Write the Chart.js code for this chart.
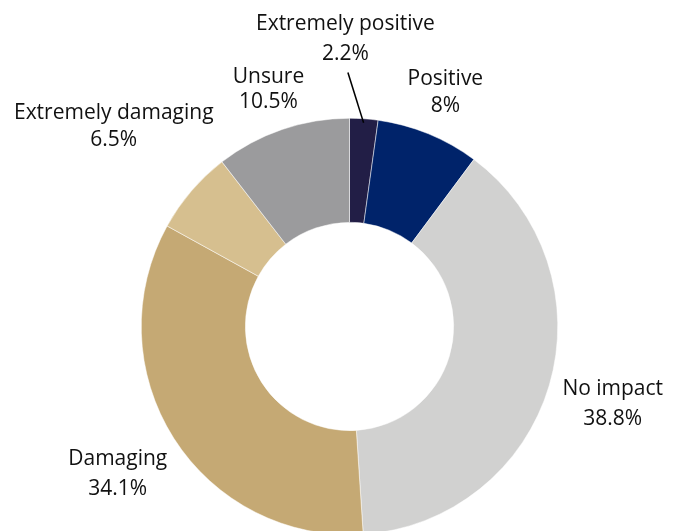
<!DOCTYPE html>
<html>
<head>
<meta charset="utf-8">
<script src="https://cdn.jsdelivr.net/npm/chart.js@4/dist/chart.umd.min.js"></script>
<style>
  html, body { margin: 0; padding: 0; background: #ffffff; overflow: hidden; }
  #wrap { width: 681px; height: 531px; overflow: hidden; }
  canvas { display: block; }
</style>
</head>
<body>
<div id="wrap"><canvas id="chart" width="681" height="545"></canvas></div>
<script>
// Survey responses: perceived impact, share of respondents (%)
const categories = ['Extremely positive', 'Positive', 'No impact', 'Damaging', 'Extremely damaging', 'Unsure'];
const shares = [2.2, 8, 38.8, 34.1, 6.5, 10.5];
const valueLabels = ['2.2%', '8%', '38.8%', '34.1%', '6.5%', '10.5%'];
const sliceColors = ['#221e46', '#00236a', '#d1d1d0', '#c5a974', '#d6bf8f', '#9b9b9d'];

// Label placement along each slice's mid-angle (multiples of the outer radius),
// a horizontal nudge, the gap between the two text lines and an optional leader line.
const labelLayout = [
  { dist: 1.386, dx: -24, gap: 30, leader: true },
  { dist: 1.213, dx: 0, gap: 27 },
  { dist: 1.318, dx: 0, gap: 30 },
  { dist: 1.319, dx: 0, gap: 30 },
  { dist: 1.477, dx: -2, gap: 27 },
  { dist: 1.202, dx: 0, gap: 25 }
];

const sliceLabels = {
  id: 'sliceLabels',
  afterDatasetsDraw(chart) {
    const ctx = chart.ctx;
    const arcs = chart.getDatasetMeta(0).data;
    ctx.save();
    ctx.font = '21px "Open Sans", sans-serif';
    ctx.fillStyle = '#111111';
    ctx.textAlign = 'center';
    ctx.textBaseline = 'middle';
    arcs.forEach((arc, i) => {
      const p = arc.getProps(['x', 'y', 'startAngle', 'endAngle', 'outerRadius'], true);
      const mid = (p.startAngle + p.endAngle) / 2;
      const cfg = labelLayout[i];
      const r = p.outerRadius * cfg.dist;
      const lx = p.x + Math.cos(mid) * r + cfg.dx;
      const ly = p.y + Math.sin(mid) * r;
      ctx.fillText(categories[i], lx, ly - cfg.gap / 2);
      ctx.fillText(valueLabels[i], lx, ly + cfg.gap / 2);
      if (cfg.leader) {
        const ex = p.x + Math.cos(mid) * (p.outerRadius - 4);
        const ey = p.y + Math.sin(mid) * (p.outerRadius - 4);
        ctx.beginPath();
        ctx.strokeStyle = '#000000';
        ctx.lineWidth = 1.5;
        ctx.moveTo(lx + 2.5, ly + cfg.gap / 2 + 19);
        ctx.lineTo(ex, ey);
        ctx.stroke();
      }
    });
    ctx.restore();
  }
};

new Chart(document.getElementById('chart'), {
  type: 'doughnut',
  data: {
    labels: categories,
    datasets: [{
      data: shares,
      backgroundColor: sliceColors,
      borderColor: '#ffffff',
      borderWidth: 0.5,
      hoverOffset: 0
    }]
  },
  options: {
    responsive: false,
    animation: false,
    cutout: '50%',
    rotation: 0,
    layout: { padding: { left: 141, right: 123, top: 118, bottom: 10 } },
    plugins: {
      legend: { display: false },
      tooltip: { enabled: false }
    }
  },
  plugins: [sliceLabels]
});
</script>
</body>
</html>
